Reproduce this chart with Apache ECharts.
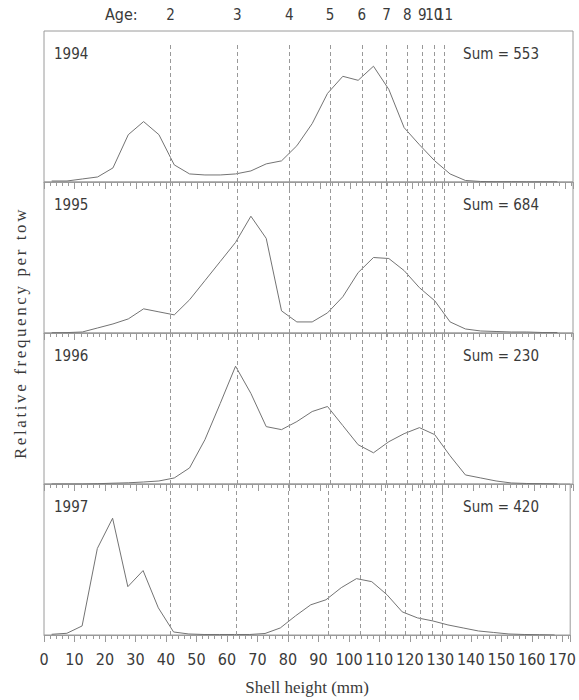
<!DOCTYPE html>
<html>
<head>
<meta charset="utf-8">
<script src="https://cdn.jsdelivr.net/npm/echarts@6/dist/echarts.min.js"></script>
<style>
  html, body { margin: 0; padding: 0; background: #fff; }
  #chart { width: 579px; height: 700px; }
</style>
</head>
<body>
<div id="chart"></div>
<script>
// shell height class mid-points (mm)
const shellHeights = [2.5, 7.5, 12.5, 17.5, 22.5, 27.5, 32.5, 37.5, 42.5, 47.5,
  52.5, 57.5, 62.5, 67.5, 72.5, 77.5, 82.5, 87.5, 92.5, 97.5,
  102.5, 107.5, 112.5, 117.5, 122.5, 127.5, 132.5, 137.5, 142.5, 147.5,
  152.5, 157.5, 162.5, 167.5];

const years = ['1994', '1995', '1996', '1997'];
const sums = [553, 684, 230, 420];

// relative frequency per tow
const freq1994 = [1, 1, 3, 5, 14, 47, 60, 47, 17, 8,
  7, 7, 8, 11, 18, 21, 36, 58, 88, 105,
  101, 115, 92, 54, 37, 21, 8, 1.5, 0.5, 0.3,
  0.3, 0.2, 0.2, 0.2];
const freq1995 = [0.3, 0.4, 1, 5, 9, 14, 24, 21, 18, 33,
  52, 71, 90, 116, 94, 22, 11, 11, 20, 36,
  60, 75, 74, 62, 45, 32, 11, 4, 2, 1.5,
  1, 1, 0.5, 0.5];
const freq1996 = [0, 0, 0, 0.3, 0.8, 1.2, 2, 3, 6, 16,
  44, 80, 117, 90, 57, 54, 62, 72, 77, 58,
  39, 31, 42, 50, 56, 49, 28, 9, 6, 3,
  1, 0.5, 0.3, 0];
const freq1997 = [0.7, 1.7, 9, 86, 116, 48, 64, 27, 3, 1,
  0.5, 0.5, 0.5, 0.5, 1.5, 7, 19, 30, 35, 47,
  56, 53, 40, 23, 17, 14, 10, 7, 4, 2.5,
  1, 0.5, 0.3, 0];
const freqByYear = [freq1994, freq1995, freq1996, freq1997];

// age classes and the shell height where each starts
const ageLabels = ['2', '3', '4', '5', '6', '7', '8', '9', '10', '11'];
const ageHeights = [41.3, 63.1, 80.0, 93.3, 103.7, 111.8, 118.5, 123.4, 127.2, 130.7];

const xTicks = [0, 10, 20, 30, 40, 50, 60, 70, 80, 90, 100, 110, 120, 130, 140, 150, 160, 170];

const yTitle = 'Relative frequency per tow';
const xTitle = 'Shell height (mm)';

const chart = echarts.init(document.getElementById('chart'), null, { renderer: 'svg' });

const panelTops = [31, 182, 333, 484];
const panelHeight = 151;
const YMAX = 150;
const lineGrey = '#9a9a9a';
const curveGrey = '#737373';
const textDark = '#3a3a3a';
const narrow = '"Liberation Sans Narrow", "DejaVu Sans Condensed", sans-serif';

const grids = panelTops.map(top => ({
    left: 44, top: top, width: 529, height: panelHeight,
    show: true, borderColor: lineGrey, borderWidth: 1, backgroundColor: 'transparent'
}));

const xAxes = years.map((y, i) => ({
    type: 'value', gridIndex: i, min: 0, max: 172.6, interval: 10,
    axisLine: { show: true, onZero: false, lineStyle: { color: lineGrey, width: 1 } },
    axisTick: { show: true, length: 7, lineStyle: { color: lineGrey } },
    minorTick: { show: true, splitNumber: 5, length: 4, lineStyle: { color: lineGrey } },
    splitLine: { show: false },
    axisLabel: {
        show: i === 3, margin: 16, fontSize: 16, color: textDark, fontFamily: narrow,
        formatter: v => (xTicks.indexOf(v) >= 0 ? String(v) : '')
    },
    name: i === 3 ? xTitle : '',
    nameLocation: 'middle', nameGap: 44,
    nameTextStyle: { fontFamily: '"Liberation Serif", serif', fontSize: 17, color: textDark }
}));

// age labels across the top of the first panel; split over two axes so
// the crowded 10 / 11 labels are both kept
[0, 1].forEach(parity => {
    const vals = ageHeights.filter((a, k) => k % 2 === parity);
    xAxes.push({
        type: 'value', gridIndex: 0, position: 'top', min: 0, max: 172.6,
        axisLine: { show: false }, axisTick: { show: false }, splitLine: { show: false },
        axisLabel: {
            show: true, margin: 9, fontSize: 15, color: textDark, fontFamily: narrow,
            hideOverlap: false,
            customValues: vals,
            formatter: v => {
                const k = ageHeights.indexOf(v);
                return k >= 0 ? ageLabels[k] : '';
            }
        }
    });
});

const yAxes = years.map((y, i) => ({
    type: 'value', gridIndex: i, min: 0, max: YMAX, show: false
}));

const series = years.map((y, i) => {
    const topVal = i === 0 ? 139 : YMAX;
    return {
        type: 'line', name: y, xAxisIndex: i, yAxisIndex: i,
        data: shellHeights.map((h, k) => [h, freqByYear[i][k]]),
        showSymbol: false, symbol: 'none',
        lineStyle: { color: curveGrey, width: 1 },
        animation: false,
        markLine: {
            silent: true, symbol: 'none', animation: false,
            label: { show: false },
            lineStyle: { color: '#999', type: [4, 3], width: 1 },
            data: ageHeights.map(a => [{ coord: [a, 0] }, { coord: [a, topVal] }])
        }
    };
});

const graphics = [];
years.forEach((y, i) => {
    graphics.push({
        type: 'text', left: 54, top: panelTops[i] + 15,
        style: { text: y, fontSize: 15, fill: textDark, fontFamily: narrow }
    });
    graphics.push({
        type: 'text', right: 40, top: panelTops[i] + 15,
        style: { text: 'Sum = ' + sums[i], fontSize: 15, fill: textDark, fontFamily: narrow }
    });
});
graphics.push({
    type: 'text', left: 105, top: 6,
    style: { text: 'Age:', fontSize: 16, fill: textDark, fontFamily: narrow }
});
graphics.push({
    type: 'text', x: 20, y: 333, rotation: Math.PI / 2,
    style: {
        text: yTitle, fontSize: 17, fill: textDark, fontFamily: '"Liberation Serif", serif',
        textAlign: 'center', textVerticalAlign: 'middle'
    }
});

// the original axis title is letter-spaced
function spaceTitle() {
    document.querySelectorAll('#chart text').forEach(t => {
        if (t.textContent.trim() === yTitle) {
            t.setAttribute('letter-spacing', '2.6');
            t.style.letterSpacing = '2.6px';
        }
    });
}
chart.on('finished', spaceTitle);

chart.setOption({
    animation: false,
    backgroundColor: '#fff',
    grid: grids,
    xAxis: xAxes,
    yAxis: yAxes,
    series: series,
    graphic: graphics
});
chart.getZr().flush();
spaceTitle();
setTimeout(spaceTitle, 0);
</script>
</body>
</html>
